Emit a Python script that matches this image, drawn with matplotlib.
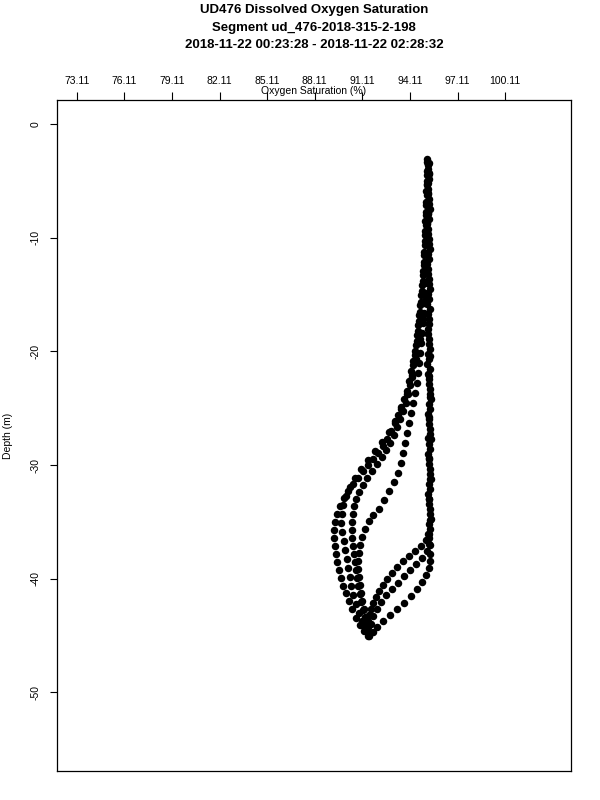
import matplotlib
matplotlib.use("Agg")
import matplotlib.pyplot as plt

plt.rcParams['font.family'] = ['Liberation Sans', 'DejaVu Sans']

title_lines = ["UD476 Dissolved Oxygen Saturation",
               "Segment ud_476-2018-315-2-198",
               "2018-11-22 00:23:28 - 2018-11-22 02:28:32"]
x_label = "Oxygen Saturation (%)"
y_label = "Depth (m)"
x_ticks = [73.11, 76.11, 79.11, 82.11, 85.11, 88.11, 91.11, 94.11, 97.11, 100.11]
y_ticks = [0, -10, -20, -30, -40, -50]

# Profile 1 (right column, lower-right row A)
depth_p1 = [-3.08, -3.96, -4.84, -5.72, -6.60, -7.48, -8.36, -9.23, -10.11, -10.99,
            -11.87, -12.75, -13.63, -14.51, -15.39, -16.27, -17.15, -18.03, -18.91, -19.79,
            -20.67, -21.55, -22.43, -23.31, -24.19, -25.07, -25.95, -26.82, -27.70, -28.58,
            -29.46, -30.34, -31.22, -32.10, -32.98, -33.86, -34.74, -35.62,
            -36.06, -36.59, -37.12, -37.56, -37.99, -38.43, -38.96, -39.49, -40.02, -40.55,
            -41.07, -41.60, -42.13, -42.66, -43.18, -43.71, -44.24, -44.68, -45.03]
oxy_p1 = [95.16, 95.22, 95.29, 95.22, 95.29, 95.35, 95.29, 95.22, 95.29, 95.35,
          95.29, 95.22, 95.29, 95.35, 95.29, 95.35, 95.29, 95.22, 95.29, 95.35,
          95.29, 95.35, 95.29, 95.35, 95.41, 95.35, 95.29, 95.35, 95.41, 95.35,
          95.29, 95.35, 95.41, 95.35, 95.29, 95.35, 95.41, 95.35,
          95.31, 95.12, 94.81, 94.43, 94.05, 93.67, 93.30, 92.99, 92.67, 92.42,
          92.17, 91.98, 91.79, 91.66, 91.54, 91.47, 91.47, 91.47, 91.54]

# Profile 2 (right column, lower-right row C)
depth_p2 = [-3.52, -4.40, -5.28, -6.16, -7.04, -7.92, -8.80, -9.67, -10.55, -11.43,
            -12.31, -13.19, -14.07, -14.95, -15.83, -16.71, -17.59, -18.47, -19.35, -20.23,
            -21.11, -21.99, -22.87, -23.75, -24.63, -25.51, -26.39, -27.26, -28.14, -29.02,
            -29.90, -30.78, -31.66, -32.54, -33.42, -34.30, -35.18, -36.06, -36.94, -37.82,
            -38.43, -39.05, -39.67, -40.28, -40.90, -41.51, -42.13, -42.66, -43.18, -43.71,
            -44.24, -44.68]
oxy_p2 = [95.25, 95.31, 95.19, 95.25, 95.31, 95.25, 95.19, 95.25, 95.31, 95.25,
          95.19, 95.25, 95.31, 95.25, 95.19, 95.25, 95.31, 95.25, 95.31, 95.25,
          95.19, 95.25, 95.31, 95.37, 95.31, 95.25, 95.31, 95.37, 95.31, 95.25,
          95.31, 95.37, 95.31, 95.25, 95.31, 95.37, 95.31, 95.25, 95.31, 95.37,
          95.37, 95.31, 95.12, 94.87, 94.56, 94.18, 93.74, 93.30, 92.86, 92.42,
          92.04, 91.79]

# Profile 3 (outer left curve)
depth_p3 = [-3.3, -4.1, -5.0, -5.9, -6.8, -7.7, -8.5, -9.4, -10.3, -11.2,
            -12.1, -12.9, -13.8, -14.7, -15.6, -16.5, -17.3, -18.2, -19.1, -20.0,
            -20.8, -21.7, -22.6, -23.5, -24.2, -24.9, -25.6, -26.3, -27.0, -27.7,
            -28.3, -28.9, -29.5, -30.0, -30.5, -31.1, -31.7, -32.3, -32.9, -33.6,
            -34.3, -35.0, -35.7, -36.4, -37.1, -37.8, -38.5, -39.2, -39.9, -40.6,
            -41.3, -42.0, -42.7, -43.5, -44.1, -44.6, -45.0]
oxy_p3 = [95.19, 95.19, 95.19, 95.12, 95.12, 95.12, 95.06, 95.06, 95.06, 95.00,
          95.00, 94.93, 94.93, 94.87, 94.81, 94.74, 94.68, 94.62, 94.56, 94.43,
          94.30, 94.18, 94.05, 93.92, 93.74, 93.55, 93.36, 93.17, 92.92, 92.67,
          92.42, 92.10, 91.79, 91.47, 91.16, 90.84, 90.53, 90.22, 89.97, 89.71,
          89.53, 89.40, 89.34, 89.34, 89.40, 89.46, 89.53, 89.65, 89.78, 89.90,
          90.09, 90.28, 90.47, 90.72, 90.97, 91.22, 91.47]

# Profile 4 (middle left curve)
depth_p4 = [-3.61, -4.49, -5.37, -6.24, -7.12, -8.00, -8.88, -9.76, -10.64, -11.52,
            -12.40, -13.28, -14.16, -15.04, -15.92, -16.80, -17.68, -18.56, -19.44, -20.32,
            -21.20, -22.08, -22.96, -23.75, -24.54, -25.24, -25.95, -26.65, -27.35, -28.06,
            -28.67, -29.29, -29.90, -30.52, -31.13, -31.75, -32.37, -32.98, -33.60, -34.30,
            -35.00, -35.71, -36.41, -37.12, -37.82, -38.52, -39.23, -39.93, -40.63, -41.34,
            -42.04, -42.74, -43.45, -44.15, -44.77]
oxy_p4 = [95.25, 95.19, 95.19, 95.19, 95.12, 95.12, 95.12, 95.06, 95.06, 95.00,
          95.00, 94.93, 94.87, 94.81, 94.74, 94.68, 94.62, 94.56, 94.49, 94.43,
          94.30, 94.24, 94.11, 93.99, 93.86, 93.67, 93.49, 93.30, 93.11, 92.86,
          92.61, 92.35, 92.04, 91.73, 91.41, 91.16, 90.91, 90.72, 90.59, 90.53,
          90.47, 90.47, 90.47, 90.53, 90.59, 90.65, 90.72, 90.78, 90.84, 90.97,
          91.03, 91.16, 91.29, 91.41, 91.60]

# Profile 5 (inner left curve)
depth_p5 = [-3.43, -4.31, -5.19, -6.07, -6.95, -7.83, -8.71, -9.59, -10.47, -11.35,
            -12.23, -13.10, -13.98, -14.86, -15.74, -16.62, -17.50, -18.38, -19.26, -20.14,
            -21.02, -21.90, -22.78, -23.66, -24.54, -25.42, -26.30, -27.18, -28.06, -28.94,
            -29.82, -30.69, -31.49, -32.28, -33.07, -33.86, -34.39, -34.92, -35.62, -36.32,
            -37.03, -37.73, -38.43, -39.14, -39.84, -40.55, -41.25, -41.95, -42.66, -43.36,
            -44.06, -44.68]
oxy_p5 = [95.31, 95.31, 95.25, 95.25, 95.25, 95.25, 95.19, 95.19, 95.19, 95.12,
          95.12, 95.12, 95.06, 95.06, 95.00, 95.00, 94.93, 94.87, 94.81, 94.74,
          94.68, 94.62, 94.56, 94.43, 94.30, 94.18, 94.05, 93.92, 93.80, 93.67,
          93.55, 93.36, 93.11, 92.80, 92.48, 92.17, 91.79, 91.54, 91.29, 91.10,
          90.97, 90.91, 90.84, 90.84, 90.91, 90.97, 91.03, 91.10, 91.22, 91.29,
          91.41, 91.54]

# Profile 6 (right column, lower-right row B)
depth_p6 = [-20.40, -22.20, -24.00, -25.80, -27.60, -29.40, -31.20, -33.00, -34.80, -36.40,
            -37.00, -37.60, -38.15, -38.70, -39.25, -39.80, -40.35, -40.90, -41.45, -42.05,
            -42.65, -43.30, -43.95]
oxy_p6 = [95.37, 95.31, 95.37, 95.31, 95.25, 95.31, 95.37, 95.31, 95.37, 95.31,
          95.37, 95.19, 94.87, 94.49, 94.11, 93.74, 93.36, 92.99, 92.61, 92.29,
          92.04, 91.79, 91.66]

# Profile 7 (second outer left curve)
depth_p7 = [-15.39, -17.15, -18.91, -20.67, -22.25, -23.75, -25.07, -26.12, -27.09, -27.97,
            -28.76, -29.55, -30.34, -31.13, -31.93, -32.72, -33.51, -34.30, -35.09, -35.88,
            -36.68, -37.47, -38.26, -39.05, -39.84, -40.63, -41.42, -42.22, -43.01, -43.71,
            -44.42]
oxy_p7 = [95.12, 94.93, 94.74, 94.49, 94.24, 93.92, 93.55, 93.17, 92.80, 92.35,
          91.92, 91.47, 91.03, 90.65, 90.34, 90.09, 89.90, 89.84, 89.78, 89.84,
          89.97, 90.03, 90.16, 90.22, 90.34, 90.41, 90.53, 90.72, 90.91, 91.10,
          91.29]

profiles = [(oxy_p1, depth_p1), (oxy_p2, depth_p2), (oxy_p3, depth_p3),
            (oxy_p4, depth_p4), (oxy_p5, depth_p5), (oxy_p6, depth_p6),
            (oxy_p7, depth_p7)]

fig = plt.figure(figsize=(6, 8), dpi=100)
ax = fig.add_axes([57.3 / 600, 1 - 771.3 / 800, (571 - 57.3) / 600, (771.3 - 100.3) / 800])

for ox, dp in profiles:
    ax.plot(ox, dp, 'o', color='black', ms=5.4, mew=0, linestyle='none')

ax.set_xlim(71.888, 104.249)
ax.set_ylim(-56.95, 2.11)

ax.xaxis.tick_top()
ax.set_xticks(x_ticks)
ax.set_xticklabels([f"{v:.2f}" for v in x_ticks])
ax.set_yticks(y_ticks)
ax.set_yticklabels([str(v) for v in y_ticks], rotation=90, va='center')
ax.tick_params(axis='x', which='both', top=True, bottom=False, direction='out',
               length=5.5, width=0.8, pad=5, labelsize=7.5, colors='black')
ax.tick_params(axis='y', which='both', left=True, right=False, direction='out',
               length=5.0, width=0.8, pad=7, labelsize=7.5, colors='black')
for s in ax.spines.values():
    s.set_linewidth(0.9)
    s.set_color('black')

fig.text(314 / 600, 1 - 91 / 800, x_label, ha='center', va='center', fontsize=7.5)
fig.text(8 / 600, 1 - 436 / 800, y_label, ha='center', va='center', fontsize=7.5, rotation=90)

for i, line in enumerate(title_lines):
    fig.text(314 / 600, 1 - (10 + 17.5 * i) / 800, line, ha='center', va='center',
             fontsize=9.5, fontweight='bold')

fig.savefig("out.png", dpi=100, facecolor='white')
